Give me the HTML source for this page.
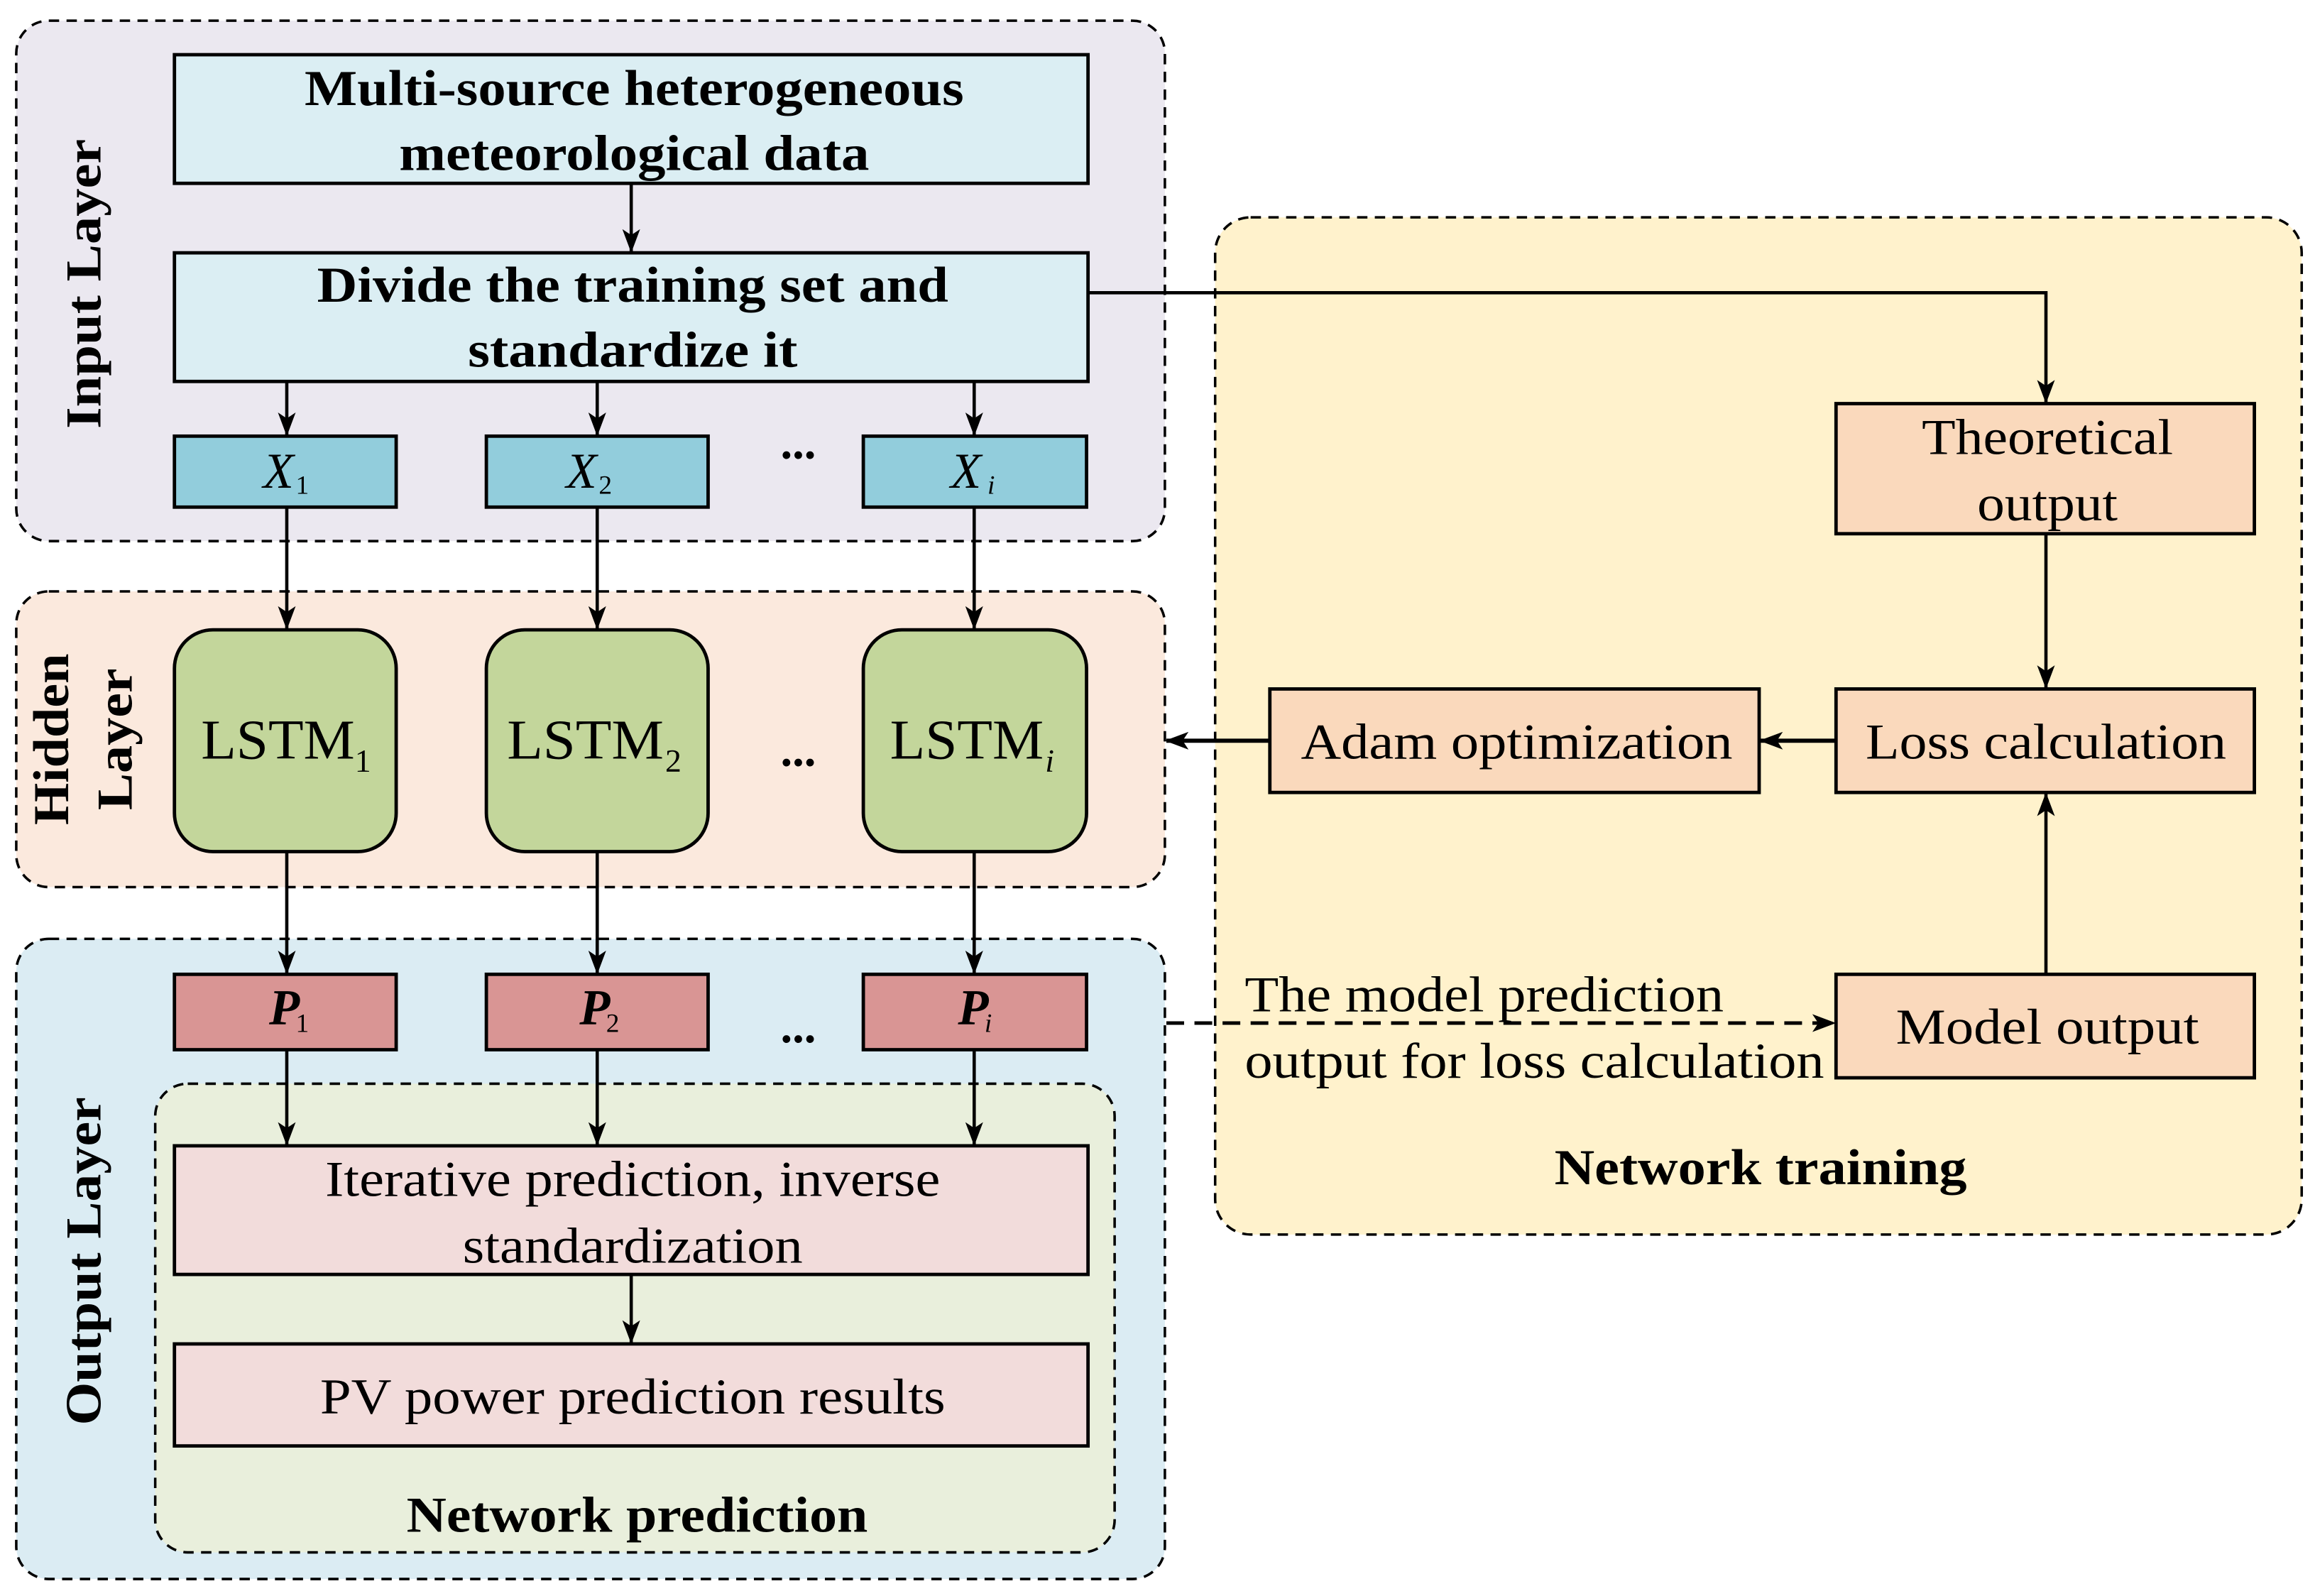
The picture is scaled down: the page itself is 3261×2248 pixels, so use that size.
<!DOCTYPE html>
<html><head><meta charset="utf-8"><style>html,body{margin:0;padding:0;background:#fff}svg{display:block}</style></head><body>
<svg width="3261" height="2248" viewBox="0 0 1566 1079.5" preserveAspectRatio="none" xmlns="http://www.w3.org/2000/svg" font-family="Liberation Serif, serif">
<defs>
<marker id="a" markerWidth="16" markerHeight="12" refX="15" refY="6" orient="auto" markerUnits="userSpaceOnUse" viewBox="0 0 16 12"><path d="M0,0 L16,6 L0,12 L4,6 Z" fill="#000"/></marker>
</defs>
<g stroke="#000" stroke-width="1.7" stroke-dasharray="7,5">
<rect x="11" y="14" width="777" height="352" rx="22" fill="#ebe8f0"/>
<rect x="11" y="400" width="777" height="200" rx="22" fill="#fbe9dd"/>
<rect x="11" y="635" width="777" height="433" rx="22" fill="#dbecf3"/>
<rect x="105" y="733" width="649" height="317" rx="22" fill="#e9efdc"/>
<rect x="822" y="147" width="735" height="688" rx="24" fill="#fff2cc"/>
</g>
<g stroke="#000" stroke-width="2.3">
<rect x="118" y="37" width="618" height="87" fill="#dbeef3"/>
<rect x="118" y="171" width="618" height="87" fill="#dbeef3"/>
<rect x="118" y="295" width="150" height="48" fill="#92cddc"/>
<rect x="329" y="295" width="150" height="48" fill="#92cddc"/>
<rect x="584" y="295" width="151" height="48" fill="#92cddc"/>
<rect x="118" y="426" width="150" height="150" rx="26" fill="#c3d69b"/>
<rect x="329" y="426" width="150" height="150" rx="26" fill="#c3d69b"/>
<rect x="584" y="426" width="151" height="150" rx="26" fill="#c3d69b"/>
<rect x="118" y="659" width="150" height="51" fill="#d99594"/>
<rect x="329" y="659" width="150" height="51" fill="#d99594"/>
<rect x="584" y="659" width="151" height="51" fill="#d99594"/>
<rect x="118" y="775" width="618" height="87" fill="#f2dcdb"/>
<rect x="118" y="909" width="618" height="69" fill="#f2dcdb"/>
<rect x="1242" y="273" width="283" height="88" fill="#fad9bc"/>
<rect x="1242" y="466" width="283" height="70" fill="#fad9bc"/>
<rect x="859" y="466" width="331" height="70" fill="#fad9bc"/>
<rect x="1242" y="659" width="283" height="70" fill="#fad9bc"/>
</g>
<g stroke="#000" stroke-width="2.2" fill="none" marker-end="url(#a)">
<line x1="427" y1="124" x2="427" y2="170"/>
<line x1="194" y1="258" x2="194" y2="294"/>
<line x1="404" y1="258" x2="404" y2="294"/>
<line x1="659" y1="258" x2="659" y2="294"/>
<line x1="194" y1="343" x2="194" y2="425"/>
<line x1="404" y1="343" x2="404" y2="425"/>
<line x1="659" y1="343" x2="659" y2="425"/>
<line x1="194" y1="576" x2="194" y2="658"/>
<line x1="404" y1="576" x2="404" y2="658"/>
<line x1="659" y1="576" x2="659" y2="658"/>
<line x1="194" y1="710" x2="194" y2="774"/>
<line x1="404" y1="710" x2="404" y2="774"/>
<line x1="659" y1="710" x2="659" y2="774"/>
<line x1="427" y1="862" x2="427" y2="908"/>
<polyline points="736,198 1384,198 1384,272"/>
<line x1="1384" y1="361" x2="1384" y2="465"/>
<line x1="1384" y1="659" x2="1384" y2="537"/>
<line x1="1242" y1="501" x2="1191" y2="501" stroke-width="2.8"/>
<line x1="859" y1="501" x2="789" y2="501" stroke-width="2.8"/>
<line x1="789" y1="692" x2="1241" y2="692" stroke-width="2.4" stroke-dasharray="12,7"/>
</g>
<g font-size="34" text-anchor="middle" fill="#000">
<g font-weight="bold">
<text x="429" y="71" textLength="446" lengthAdjust="spacingAndGlyphs">Multi-source heterogeneous</text>
<text x="429" y="115" textLength="318" lengthAdjust="spacingAndGlyphs">meteorological data</text>
<text x="428" y="204" textLength="427" lengthAdjust="spacingAndGlyphs">Divide the training set and</text>
<text x="428" y="248" textLength="223" lengthAdjust="spacingAndGlyphs">standardize it</text>
<text x="1191" y="801" textLength="279" lengthAdjust="spacingAndGlyphs">Network training</text>
<text x="431" y="1036" textLength="312" lengthAdjust="spacingAndGlyphs">Network prediction</text>
<text transform="translate(68,192) rotate(-90)" textLength="196" lengthAdjust="spacingAndGlyphs">Input Layer</text>
<text transform="translate(46,500) rotate(-90)" textLength="116" lengthAdjust="spacingAndGlyphs">Hidden</text>
<text transform="translate(89,500) rotate(-90)" textLength="96" lengthAdjust="spacingAndGlyphs">Layer</text>
<text transform="translate(68,853) rotate(-90)" textLength="222" lengthAdjust="spacingAndGlyphs">Output Layer</text>
</g>
<text x="1385" y="307" textLength="170" lengthAdjust="spacingAndGlyphs">Theoretical</text>
<text x="1385" y="352" textLength="95" lengthAdjust="spacingAndGlyphs">output</text>
<text x="1026" y="513" textLength="292" lengthAdjust="spacingAndGlyphs">Adam optimization</text>
<text x="1384" y="513" textLength="244" lengthAdjust="spacingAndGlyphs">Loss calculation</text>
<text x="1385" y="706" textLength="205" lengthAdjust="spacingAndGlyphs">Model output</text>
<text x="428" y="809" textLength="416" lengthAdjust="spacingAndGlyphs">Iterative prediction, inverse</text>
<text x="428" y="854" textLength="230" lengthAdjust="spacingAndGlyphs">standardization</text>
<text x="428" y="956" textLength="423" lengthAdjust="spacingAndGlyphs">PV power prediction results</text>
<g text-anchor="start">
<text x="842" y="684" textLength="324" lengthAdjust="spacingAndGlyphs">The model prediction</text>
<text x="842" y="729" textLength="392" lengthAdjust="spacingAndGlyphs">output for loss calculation</text>
</g>
<g font-size="38" text-anchor="start">
<text x="136" y="513" textLength="104" lengthAdjust="spacingAndGlyphs">LSTM</text><text x="240" y="522" font-size="22">1</text>
<text x="343" y="513" textLength="106" lengthAdjust="spacingAndGlyphs">LSTM</text><text x="450" y="522" font-size="22">2</text>
<text x="602" y="513" textLength="104" lengthAdjust="spacingAndGlyphs">LSTM</text><text x="707" y="522" font-size="22" font-style="italic">i</text>
</g>
<g text-anchor="start" font-style="italic">
<text x="178" y="330">X</text><text x="200" y="334" font-size="18" font-style="normal">1</text>
<text x="383" y="330">X</text><text x="405" y="334" font-size="18" font-style="normal">2</text>
<text x="643" y="330">X</text><text x="668" y="334" font-size="18">i</text>
<text x="182" y="693" font-weight="bold">P</text><text x="200" y="698" font-size="18" font-style="normal">1</text>
<text x="392" y="693" font-weight="bold">P</text><text x="410" y="698" font-size="18" font-style="normal">2</text>
<text x="648" y="693" font-weight="bold">P</text><text x="666" y="698" font-size="18">i</text>
</g>
<g font-size="32" font-weight="bold">
<text x="540" y="310">...</text>
<text x="540" y="518">...</text>
<text x="540" y="705">...</text>
</g>
</g>
</svg>
</body></html>
